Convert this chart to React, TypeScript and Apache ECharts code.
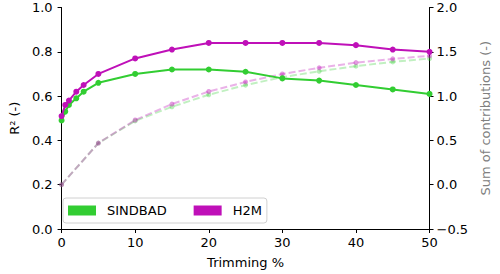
import React, { useEffect, useRef } from "react";
import * as echarts from "echarts";

const trimX = [0, 0.5, 1, 2, 3, 5, 10, 15, 20, 25, 30, 35, 40, 45, 50];
const sindbadR2 = [0.49, 0.53, 0.56, 0.59, 0.62, 0.66, 0.7, 0.72, 0.72, 0.71, 0.68, 0.67, 0.65, 0.63, 0.61];
const h2mR2 = [0.51, 0.56, 0.58, 0.62, 0.65, 0.7, 0.77, 0.81, 0.84, 0.84, 0.84, 0.84, 0.83, 0.81, 0.8];

const sumX = [0, 5, 10, 15, 20, 25, 30, 35, 40, 45, 50];
const sindbadSum = [0.0, 0.47, 0.72, 0.88, 1.015, 1.124, 1.214, 1.28, 1.338, 1.386, 1.424];
const h2mSum = [0.0, 0.47, 0.73, 0.91, 1.052, 1.16, 1.25, 1.319, 1.378, 1.42, 1.454];

const GREEN = "#32cd32";
const PURPLE = "#bf10b8";
const FONT = "DejaVu Sans";

const zip = (xs: number[], ys: number[]) => xs.map((x, i) => [x, ys[i]]);

export default function App() {
  const ref = useRef<HTMLDivElement>(null);
  useEffect(() => {
    if (!ref.current) return;
    const chart = echarts.init(ref.current, undefined, { renderer: "svg" });
    const axisCommon = {
      axisLine: { show: true, lineStyle: { color: "#000", width: 1 } },
      axisTick: { show: true, length: 4, lineStyle: { color: "#000" } },
      splitLine: { show: false },
    };
    chart.setOption({
      animation: false,
      textStyle: { fontFamily: FONT },
      grid: { left: 56, right: 64, top: 7.5, bottom: 44.5 },
      legend: {
        left: 63,
        top: 198,
        orient: "horizontal",
        itemWidth: 28,
        itemHeight: 10,
        itemGap: 27,
        padding: [6, 5, 6, 5],
        backgroundColor: "rgba(255,255,255,0.85)",
        borderColor: "#d0d0d0",
        borderWidth: 1,
        borderRadius: 3,
        icon: "rect",
        data: ["SINDBAD", "H2M"],
        formatter: (name: string) => "{t|" + name + "}",
        textStyle: {
          fontFamily: FONT,
          fontSize: 13,
          color: "#000",
          rich: { t: { fontFamily: FONT, fontSize: 13, color: "#000", padding: [0, 0, 0, 6] } },
        },
      },
      xAxis: {
        type: "value",
        min: 0,
        max: 50,
        interval: 10,
        name: "Trimming %",
        nameLocation: "middle",
        nameGap: 27,
        nameTextStyle: { fontFamily: FONT, fontSize: 13, color: "#000", verticalAlign: "top" },
        axisLabel: { fontFamily: FONT, fontSize: 13, color: "#000", margin: 7 },
        ...axisCommon,
      },
      yAxis: [
        {
          type: "value",
          min: 0,
          max: 1,
          interval: 0.2,
          position: "left",
          name: "R² (-)",
          nameLocation: "middle",
          nameGap: 38,
          nameTextStyle: { fontFamily: FONT, fontSize: 13, color: "#000" },
          axisLabel: { fontFamily: FONT, fontSize: 13, color: "#000", margin: 9, formatter: (v: number) => v.toFixed(1) },
          ...axisCommon,
        },
        {
          type: "value",
          min: -0.5,
          max: 2,
          interval: 0.5,
          position: "right",
          name: "Sum of contributions (-)",
          nameLocation: "middle",
          nameGap: 48,
          nameTextStyle: { fontFamily: FONT, fontSize: 13, color: "#808080" },
          axisLabel: {
            fontFamily: FONT,
            fontSize: 13,
            color: "#000",
            margin: 7,
            formatter: (v: number) => (v < 0 ? "\u2212" + Math.abs(v).toFixed(1) : v.toFixed(1)),
          },
          ...axisCommon,
        },
      ],
      series: [
        {
          name: "SINDBAD sum",
          type: "line",
          yAxisIndex: 1,
          data: zip(sumX, sindbadSum),
          symbol: "circle",
          symbolSize: 5,
          lineStyle: { color: GREEN, width: 2, type: [7, 3], opacity: 0.3 },
          itemStyle: { color: GREEN, opacity: 0.35 },
          z: 2,
        },
        {
          name: "H2M sum",
          type: "line",
          yAxisIndex: 1,
          data: zip(sumX, h2mSum),
          symbol: "circle",
          symbolSize: 5,
          lineStyle: { color: PURPLE, width: 2, type: [7, 3], opacity: 0.32 },
          itemStyle: { color: PURPLE, opacity: 0.42 },
          z: 2,
        },
        {
          name: "SINDBAD",
          type: "line",
          yAxisIndex: 0,
          data: zip(trimX, sindbadR2),
          symbol: "circle",
          symbolSize: 6,
          lineStyle: { color: GREEN, width: 2 },
          itemStyle: { color: GREEN },
          z: 3,
        },
        {
          name: "H2M",
          type: "line",
          yAxisIndex: 0,
          data: zip(trimX, h2mR2),
          symbol: "circle",
          symbolSize: 6,
          lineStyle: { color: PURPLE, width: 2 },
          itemStyle: { color: PURPLE },
          z: 4,
        },
      ],
    });
    return () => chart.dispose();
  }, []);
  return <div ref={ref} style={{ width: 500, height: 274, position: "absolute", left: 0, top: 0 }} />;
}
